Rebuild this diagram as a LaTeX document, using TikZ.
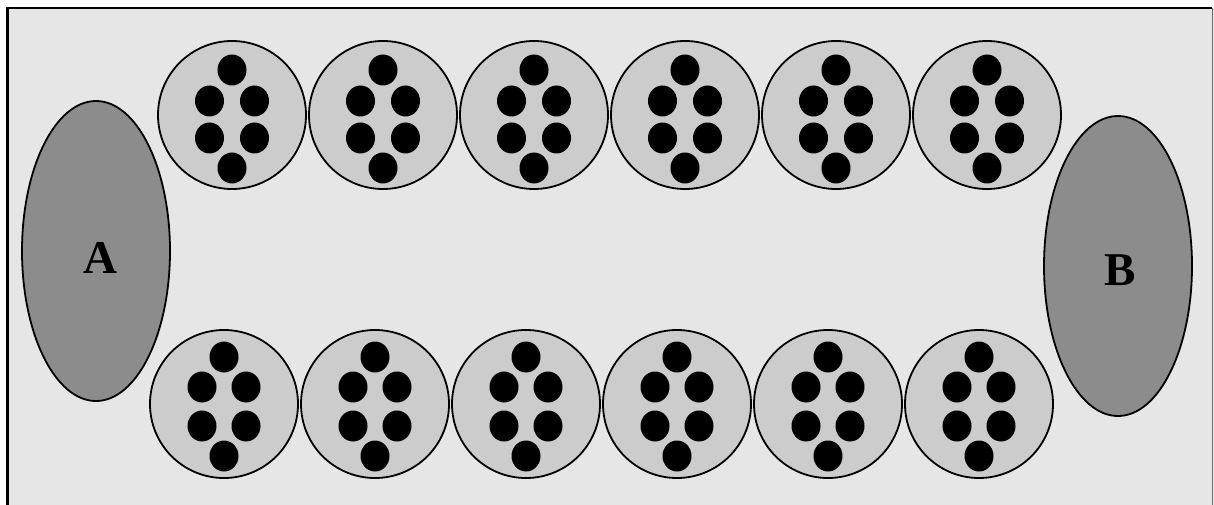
\documentclass[tikz,border=0pt]{standalone}
\usepackage{fontspec}
\setmainfont{Liberation Serif}
\usetikzlibrary{shapes.geometric}
\definecolor{bgc}{HTML}{E6E6E6}
\definecolor{cellc}{HTML}{CCCCCC}
\definecolor{endc}{HTML}{8C8C8C}
\definecolor{edgec}{HTML}{707070}
\tikzset{
  cell/.style={circle, draw=black, line width=1.8pt, fill=cellc, minimum size=148pt, inner sep=0pt},
  dot/.style={ellipse, fill=black, minimum width=29pt, minimum height=31pt, inner sep=0pt},
  endcap/.style={ellipse, draw=black, line width=1.8pt, fill=endc, minimum width=148pt, minimum height=300pt, inner sep=0pt,
    font=\fontsize{47}{50}\selectfont\bfseries}
}
\begin{document}
\begin{tikzpicture}[x=1pt,y=-1pt]
\useasboundingbox (0,0) rectangle (1214,505);
\fill[white] (0,0) rectangle (1214,505);
\fill[bgc] (7,8) rectangle (1214,505);
\draw[black, line width=2.6pt] (7.3,505) -- (7.3,8.2) -- (1212,8.2);
\draw[edgec, line width=1.5pt] (1212.5,8) -- (1212.5,505);
% end ellipses
\node[endcap] (A) at (96,251) {};
\node at (100,258) [font=\fontsize{47}{50}\selectfont\bfseries] (Alabel) {A};
\node[endcap] (B) at (1118,266) {};
\node at (1120,270) [font=\fontsize{47}{50}\selectfont\bfseries] (Blabel) {B};
% cells
\foreach \i/\x in {1/232,2/383,3/534,4/685,5/836,6/987} {
  \node[cell] (t\i) at (\x,115) {};
  \node[dot] (t\i a) at (\x,70) {};
  \node[dot] (t\i b) at (\x-22.5,101) {};
  \node[dot] (t\i c) at (\x+22.5,101) {};
  \node[dot] (t\i d) at (\x-22.5,138) {};
  \node[dot] (t\i e) at (\x+22.5,138) {};
  \node[dot] (t\i f) at (\x,168) {};
}
\foreach \i/\x in {1/224,2/375,3/526,4/677,5/828,6/979} {
  \node[cell] (b\i) at (\x,404) {};
  \node[dot] (b\i a) at (\x,357) {};
  \node[dot] (b\i b) at (\x-22,387) {};
  \node[dot] (b\i c) at (\x+22,387) {};
  \node[dot] (b\i d) at (\x-22,426) {};
  \node[dot] (b\i e) at (\x+22,426) {};
  \node[dot] (b\i f) at (\x,456) {};
}
\end{tikzpicture}
\end{document}
